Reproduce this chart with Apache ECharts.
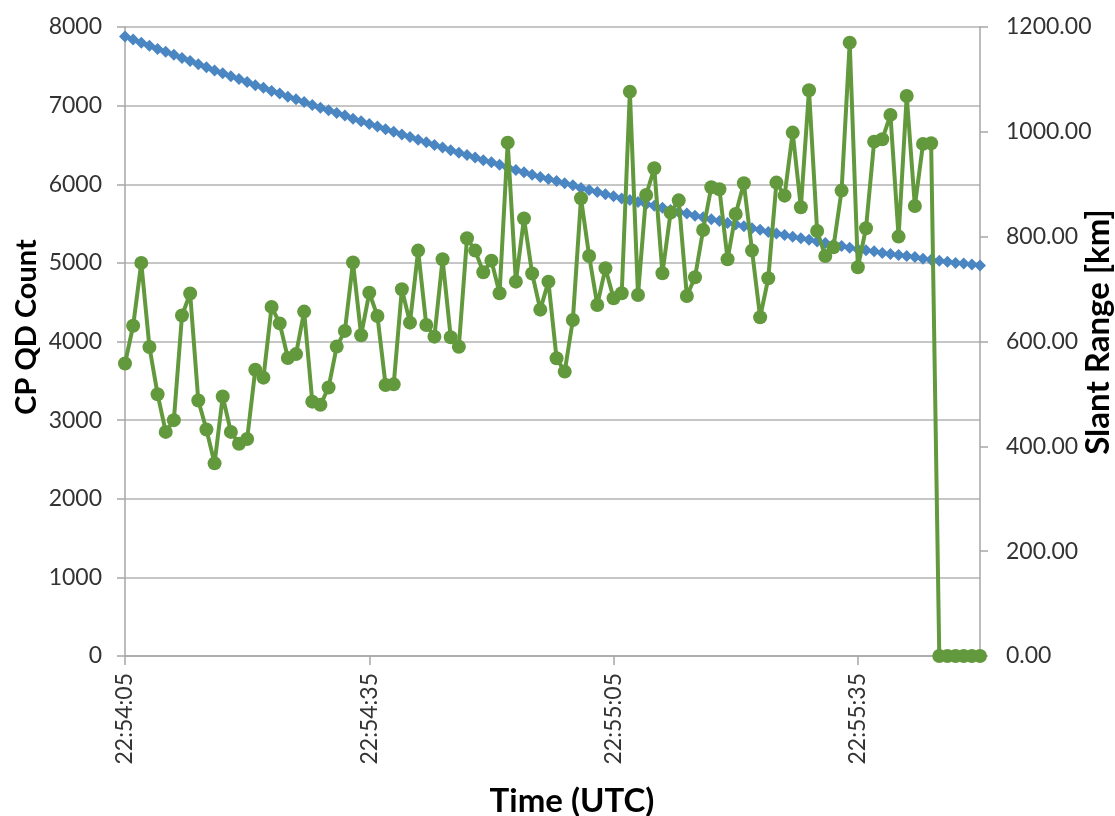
<!DOCTYPE html>
<html>
<head>
<meta charset="utf-8">
<script src="https://cdn.jsdelivr.net/npm/echarts@6/dist/echarts.min.js"></script>
<style>
html,body{margin:0;padding:0;background:#fff;}
#chart{width:1115px;height:816px;}
</style>
</head>
<body>
<div id="chart"></div>
<script>
// Time categories: one per second from 22:54:05 (106 samples)
var startSec = 22 * 3600 + 54 * 60 + 5;
var sampleCount = 106;
var categories = [];
for (var k = 0; k < sampleCount; k++) {
  var t = startSec + k;
  var hh = Math.floor(t / 3600), mm = Math.floor((t % 3600) / 60), ss = t % 60;
  categories.push(hh + ':' + (mm < 10 ? '0' : '') + mm + ':' + (ss < 10 ? '0' : '') + ss);
}

// CP QD Count (left axis)
var qdCount = [
  3720, 4200, 5000, 3930, 3330, 2850, 3000, 4330, 4610, 3250,
  2880, 2450, 3300, 2850, 2700, 2760, 3640, 3540, 4440, 4230,
  3790, 3840, 4380, 3235, 3195, 3415, 3935, 4135, 5005, 4080,
  4620, 4325, 3447, 3455, 4664, 4240, 5156, 4210, 4062, 5046,
  4054, 3934, 5313, 5156, 4881, 5028, 4614, 6529, 4761, 5565,
  4865, 4405, 4761, 3787, 3617, 4274, 5822, 5088, 4465, 4932,
  4550, 4614, 7178, 4592, 5864, 6203, 4868, 5639, 5795, 4579,
  4817, 5419, 5962, 5936, 5046, 5622, 6013, 5156, 4308, 4804,
  6021, 5855, 6657, 5707, 7195, 5405, 5088, 5199, 5919, 7801,
  4944, 5440, 6542, 6572, 6882, 5334, 7123, 5724, 6513, 6522,
  0, 0, 0, 0, 0, 0
];

// Slant Range [km] (right axis)
var slantRange = [
  1182, 1176, 1170, 1164, 1158, 1153, 1147, 1141, 1135, 1129,
  1123, 1117, 1112, 1106, 1101, 1095, 1089, 1084, 1078, 1073,
  1067, 1062, 1057, 1051, 1046, 1041, 1036, 1031, 1025, 1020,
  1015, 1010, 1005, 1000, 995, 990, 985, 980, 975, 970,
  965, 960, 956, 951, 946, 942, 937, 932, 927, 923,
  918, 914, 910, 906, 902, 898, 893, 889, 885, 881,
  877, 873, 870, 866, 862, 859, 855, 851, 847, 844,
  840, 837, 833, 830, 826, 823, 820, 816, 813, 809,
  806, 803, 800, 797, 794, 791, 788, 785, 782, 779,
  776, 774, 772, 769, 767, 765, 763, 761, 758, 756,
  754, 752, 750, 749, 747, 745
];

var leftTicks = {min: 0, max: 8000, interval: 1000};
var rightTicks = {min: 0, max: 1200, interval: 200};

var chart = echarts.init(document.getElementById('chart'), null, {renderer: 'canvas'});
var FONT = 'Lato';
var axisGray = '#a6a6a6';

chart.setOption({
  animation: false,
  backgroundColor: '#ffffff',
  grid: {left: 125, right: 135, top: 27, bottom: 160, containLabel: false},
  xAxis: {
    type: 'category',
    data: categories,
    boundaryGap: false,
    axisLine: {show: true, lineStyle: {color: axisGray, width: 1.5}},
    axisTick: {show: true, interval: 29, length: 9, lineStyle: {color: axisGray, width: 1.5}},
    axisLabel: {interval: 29, rotate: 90, margin: 17, color: '#333', fontFamily: FONT, fontSize: 23},
    splitLine: {show: false}
  },
  yAxis: [
    {
      type: 'value',
      min: leftTicks.min, max: leftTicks.max, interval: leftTicks.interval,
      position: 'left',
      axisLine: {show: true, lineStyle: {color: axisGray, width: 1.5}},
      axisTick: {show: true, length: 8, lineStyle: {color: axisGray, width: 1.5}},
      axisLabel: {margin: 23, color: '#333', fontFamily: FONT, fontSize: 23,
        formatter: function (v) { return String(v); }},
      splitLine: {show: true, lineStyle: {color: '#b3b3b3', width: 1.5}}
    },
    {
      type: 'value',
      min: rightTicks.min, max: rightTicks.max, interval: rightTicks.interval,
      position: 'right',
      axisLine: {show: true, lineStyle: {color: axisGray, width: 1.5}},
      axisTick: {show: true, length: 8, lineStyle: {color: axisGray, width: 1.5}},
      axisLabel: {margin: 26, color: '#333', fontFamily: FONT, fontSize: 23,
        formatter: function (v) { return v.toFixed(2); }},
      splitLine: {show: false}
    }
  ],
  series: [
    {
      name: 'Slant Range',
      type: 'line',
      yAxisIndex: 1,
      data: slantRange,
      symbol: 'diamond',
      symbolSize: [12, 12],
      showAllSymbol: true,
      itemStyle: {color: '#4a86c2'},
      lineStyle: {color: '#4a86c2', width: 2.5},
      z: 2
    },
    {
      name: 'CP QD Count',
      type: 'line',
      yAxisIndex: 0,
      data: qdCount,
      symbol: 'circle',
      symbolSize: 14,
      showAllSymbol: true,
      itemStyle: {color: '#63993d'},
      lineStyle: {color: '#63993d', width: 4},
      z: 3
    }
  ],
  graphic: [
    {type: 'text', x: 27, y: 327, rotation: Math.PI / 2,
      style: {text: 'CP QD Count', fill: '#000', font: 'bold 29px Lato', textAlign: 'center', textVerticalAlign: 'middle'}},
    {type: 'text', x: 1098, y: 332, rotation: Math.PI / 2,
      style: {text: 'Slant Range [km]', fill: '#000', font: 'bold 33px Lato', textAlign: 'center', textVerticalAlign: 'middle'}},
    {type: 'text', x: 572, y: 801,
      style: {text: 'Time (UTC)', fill: '#000', font: 'bold 33px Lato', textAlign: 'center', textVerticalAlign: 'middle'}}
  ]
});
</script>
</body>
</html>
